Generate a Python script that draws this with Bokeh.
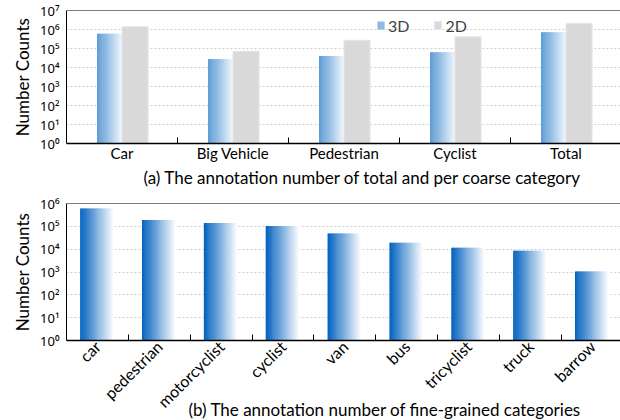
import math
from bokeh.plotting import figure
from bokeh.models import (Range1d, FixedTicker, Span, Title, Legend, LegendItem,
                          ColumnDataSource, Label)
from bokeh.layouts import column
from bokeh.embed import file_html
from bokeh.resources import INLINE

# ---------------- data ----------------
coarse_categories = ["Car", "Big Vehicle", "Pedestrian", "Cyclist", "Total"]
coarse_3d = [590000, 28000, 40000, 64000, 720000]
coarse_2d = [1400000, 72000, 270000, 410000, 2100000]

fine_categories = ["car", "pedestrian", "motorcyclist", "cyclist", "van",
                   "bus", "tricyclist", "truck", "barrow"]
fine_3d = [600000, 190000, 140000, 104000, 48000, 19000, 11500, 8500, 1050]

sup = "⁰¹²³⁴⁵⁶⁷⁸⁹"
top_decades = [10 ** i for i in range(8)]
bottom_decades = [10 ** i for i in range(7)]
decade_labels = {10 ** i: "10" + sup[i] for i in range(8)}

caption_a = "(a) The annotation number of total and per coarse category"
caption_b = "(b) The annotation number of fine-grained  categories"

FONT = "Lato"
TICK_FONT = "Noto Sans"


def hex2rgb(h):
    h = h.lstrip("#")
    return tuple(int(h[i:i + 2], 16) for i in (0, 2, 4))


def mix(c0, c1, f):
    a, b = hex2rgb(c0), hex2rgb(c1)
    return "#%02x%02x%02x" % tuple(round(a[k] + (b[k] - a[k]) * f) for k in range(3))


def strips(n_cat, tops, x0, x1, c0, c1, n):
    L, R, T, C = [], [], [], []
    s = (x1 - x0) / n
    for idx, t in zip(range(n_cat), tops):
        c = idx + 0.5
        for i in range(n):
            f = i / (n - 1)
            L.append(c + x0 + i * s)
            R.append(c + x0 + (i + 1) * s + (0.6 * s if i < n - 1 else 0))
            T.append(t)
            C.append(mix(c0, c1, f))
    return ColumnDataSource(dict(left=L, right=R, top=T, bottom=[1] * len(T), color=C))


def style(p, decades, n_cat):
    p.outline_line_color = None
    p.xgrid.visible = False
    p.ygrid.grid_line_color = "#cfcfcf"
    p.ygrid.grid_line_dash = "2 2"
    p.ygrid.grid_line_width = 1
    yax = p.yaxis[0]
    yax.ticker = FixedTicker(ticks=decades)
    yax.major_label_overrides = {d: decade_labels[d] for d in decades}
    yax.major_tick_in = 0
    yax.major_tick_out = 0
    yax.minor_tick_in = 0
    yax.minor_tick_out = 0
    yax.major_label_text_font = TICK_FONT
    yax.major_label_text_font_size = "13px"
    yax.major_label_text_color = "black"
    yax.major_label_standoff = 7
    yax.axis_line_color = "black"
    yax.axis_label = "Number Counts"
    yax.axis_label_text_font = FONT
    yax.axis_label_text_font_size = "17px"
    yax.axis_label_text_font_style = "normal"
    yax.axis_label_text_color = "black"
    yax.axis_label_standoff = 4
    xax = p.xaxis[0]
    xax.ticker = FixedTicker(ticks=[i + 0.5 for i in range(n_cat)],
                             minor_ticks=list(range(1, n_cat)))
    xax.major_tick_in = 0
    xax.major_tick_out = 0
    xax.minor_tick_in = 6
    xax.minor_tick_out = 0
    xax.minor_tick_line_color = "black"
    xax.axis_line_color = "black"
    xax.axis_line_width = 1.5
    xax.major_label_text_font = FONT
    xax.major_label_text_font_size = "15px"
    xax.major_label_text_color = "black"
    p.add_layout(Span(location=decades[-1], dimension="width",
                      line_color="black", line_width=1))


W = 620
FRAME_LEFT = 66

# ---------------- top chart ----------------
p1 = figure(width=W, height=190, x_range=Range1d(0, 554 / 111),
            y_range=Range1d(1, 1e7), y_axis_type="log",
            output_backend="svg", toolbar_location=None,
            min_border_left=FRAME_LEFT, min_border_right=0,
            min_border_top=10, min_border_bottom=47)
style(p1, top_decades, len(coarse_categories))
p1.xaxis[0].major_label_overrides = {i + 0.5: c for i, c in enumerate(coarse_categories)}
p1.xaxis[0].major_label_standoff = 0

N1 = 24
src3d = strips(len(coarse_categories), coarse_3d, -0.225, 0.0, "#5b9bd5", "#eef5fc", N1)
r3d = p1.quad(left="left", right="right", top="top", bottom="bottom",
              fill_color="color", line_color=None, source=src3d)
src2d = ColumnDataSource(dict(left=[i + 0.5 for i in range(len(coarse_categories))],
                              right=[i + 0.5 + 0.235 for i in range(len(coarse_categories))],
                              top=coarse_2d, bottom=[1] * len(coarse_2d)))
r2d = p1.quad(left="left", right="right", top="top", bottom="bottom",
              fill_color="#d9d9d9", line_color="#e6e6e6", line_width=1, source=src2d)

legend = Legend(items=[LegendItem(label="3D", renderers=[r3d], index=N1 // 3),
                       LegendItem(label="2D", renderers=[r2d])],
                orientation="horizontal", location=(310, 108),
                glyph_width=9, glyph_height=10, label_standoff=3, spacing=24,
                padding=0, margin=0, border_line_color=None,
                background_fill_alpha=0, label_text_font=FONT,
                label_text_font_size="16px", label_height=20, label_width=17)
p1.add_layout(legend)

p1.add_layout(Title(text=caption_a, align="left", offset=77, standoff=0,
                    text_font=FONT, text_font_size="17px", text_font_style="normal",
                    text_color="black"), "below")

# ---------------- bottom chart ----------------
p2 = figure(width=W, height=230, x_range=Range1d(0, 554 / 61.86),
            y_range=Range1d(1, 1e6), y_axis_type="log",
            output_backend="svg", toolbar_location=None,
            min_border_left=FRAME_LEFT, min_border_right=0,
            min_border_top=13, min_border_bottom=78)
style(p2, bottom_decades, len(fine_categories))
p2.xaxis[0].major_label_overrides = {i + 0.5: c for i, c in enumerate(fine_categories)}
p2.xaxis[0].major_label_orientation = math.pi / 4
p2.xaxis[0].major_label_standoff = 3
p2.xaxis[0].major_label_text_font_size = "16px"

N2 = 32
srcf = strips(len(fine_categories), fine_3d, -0.28, 0.27, "#0663c0", "#ffffff", N2)
p2.quad(left="left", right="right", top="top", bottom="bottom",
        fill_color="color", line_color=None, source=srcf)

# ---------------- caption (b), overlapping the rotated labels ----------------
p3 = figure(width=W, height=26, x_range=Range1d(0, W), y_range=Range1d(0, 26),
            x_axis_location=None, y_axis_location=None,
            output_backend="svg", toolbar_location=None,
            min_border=0, min_border_left=0, min_border_right=0,
            min_border_top=0, min_border_bottom=0, margin=(-26, 0, 0, 0))
p3.grid.visible = False
p3.outline_line_color = None
p3.background_fill_alpha = 0
p3.border_fill_alpha = 0
p3.add_layout(Label(x=122, y=11, x_units="screen", y_units="screen",
                    text=caption_b, text_font=FONT,
                    text_font_size="17px", text_baseline="middle",
                    text_align="left", text_color="black"))

layout = column(p1, p2, p3, spacing=0)
open("out.html", "w").write(file_html(layout, INLINE))
